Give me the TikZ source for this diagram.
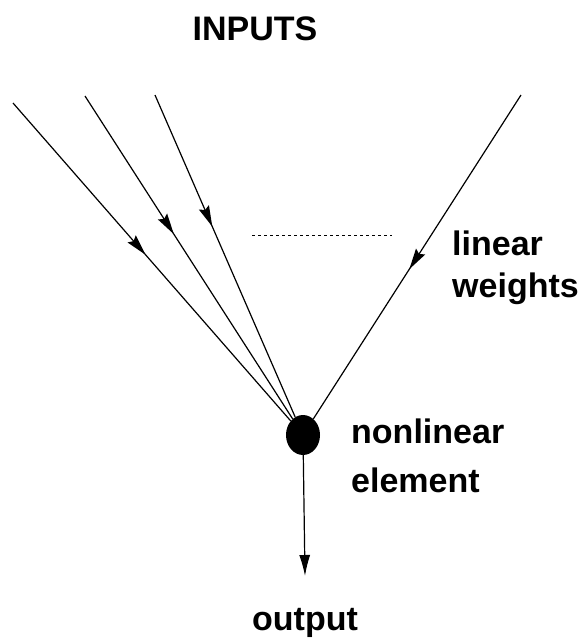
\documentclass[tikz,border=0pt]{standalone}
\usepackage{fontspec}
\setmainfont{Liberation Sans}
\usetikzlibrary{decorations.markings,arrows.meta,shapes.geometric}
\tikzset{
  wire/.style={line width=1.2pt},
  midarrow/.style={postaction={decorate},decoration={markings,
    mark=at position #1 with {\fill (3pt,0pt) -- (-18pt,5.5pt) -- (-15pt,0pt) -- (-18pt,-5.5pt) -- cycle;}}},
  lbl/.style={font=\fontsize{34}{40}\selectfont\bfseries,inner sep=0pt,anchor=base west},
}
\begin{document}
\begin{tikzpicture}[x=1pt,y=-1pt]
\useasboundingbox (0,0) rectangle (585,641);
\node[ellipse,fill=black,minimum width=34pt,minimum height=40pt,inner sep=0pt] (elem) at (303,435) {};
\coordinate (in1) at (13,103);
\coordinate (in2) at (85,96);
\coordinate (in3) at (155,95);
\coordinate (in4) at (521,95);
\coordinate (out) at (305,576);
\coordinate (dl) at (252,235);
\coordinate (dr) at (392,235);
\draw[wire,midarrow=0.47] (in1) -- (elem);
\draw[wire,midarrow=0.42] (in2) -- (elem);
\draw[wire,midarrow=0.40] (in3) -- (elem);
\draw[wire,midarrow=0.53] (in4) -- (elem);
\draw[wire,-{Latex[length=21pt,width=11pt]}] (elem) -- (out);
\draw[line width=1pt,dash pattern=on 3pt off 3pt] (dl) -- (dr);
\node[lbl,anchor=base] (inputs) at (255,40) {INPUTS};
\node[lbl] (lin) at (452,255) {linear};
\node[lbl] (wts) at (452,297) {weights};
\node[lbl] (nonlin) at (351,443) {nonlinear};
\node[lbl] (elemtxt) at (351,492) {element};
\node[lbl,anchor=base] (outtxt) at (305,630) {output};
\end{tikzpicture}
\end{document}
